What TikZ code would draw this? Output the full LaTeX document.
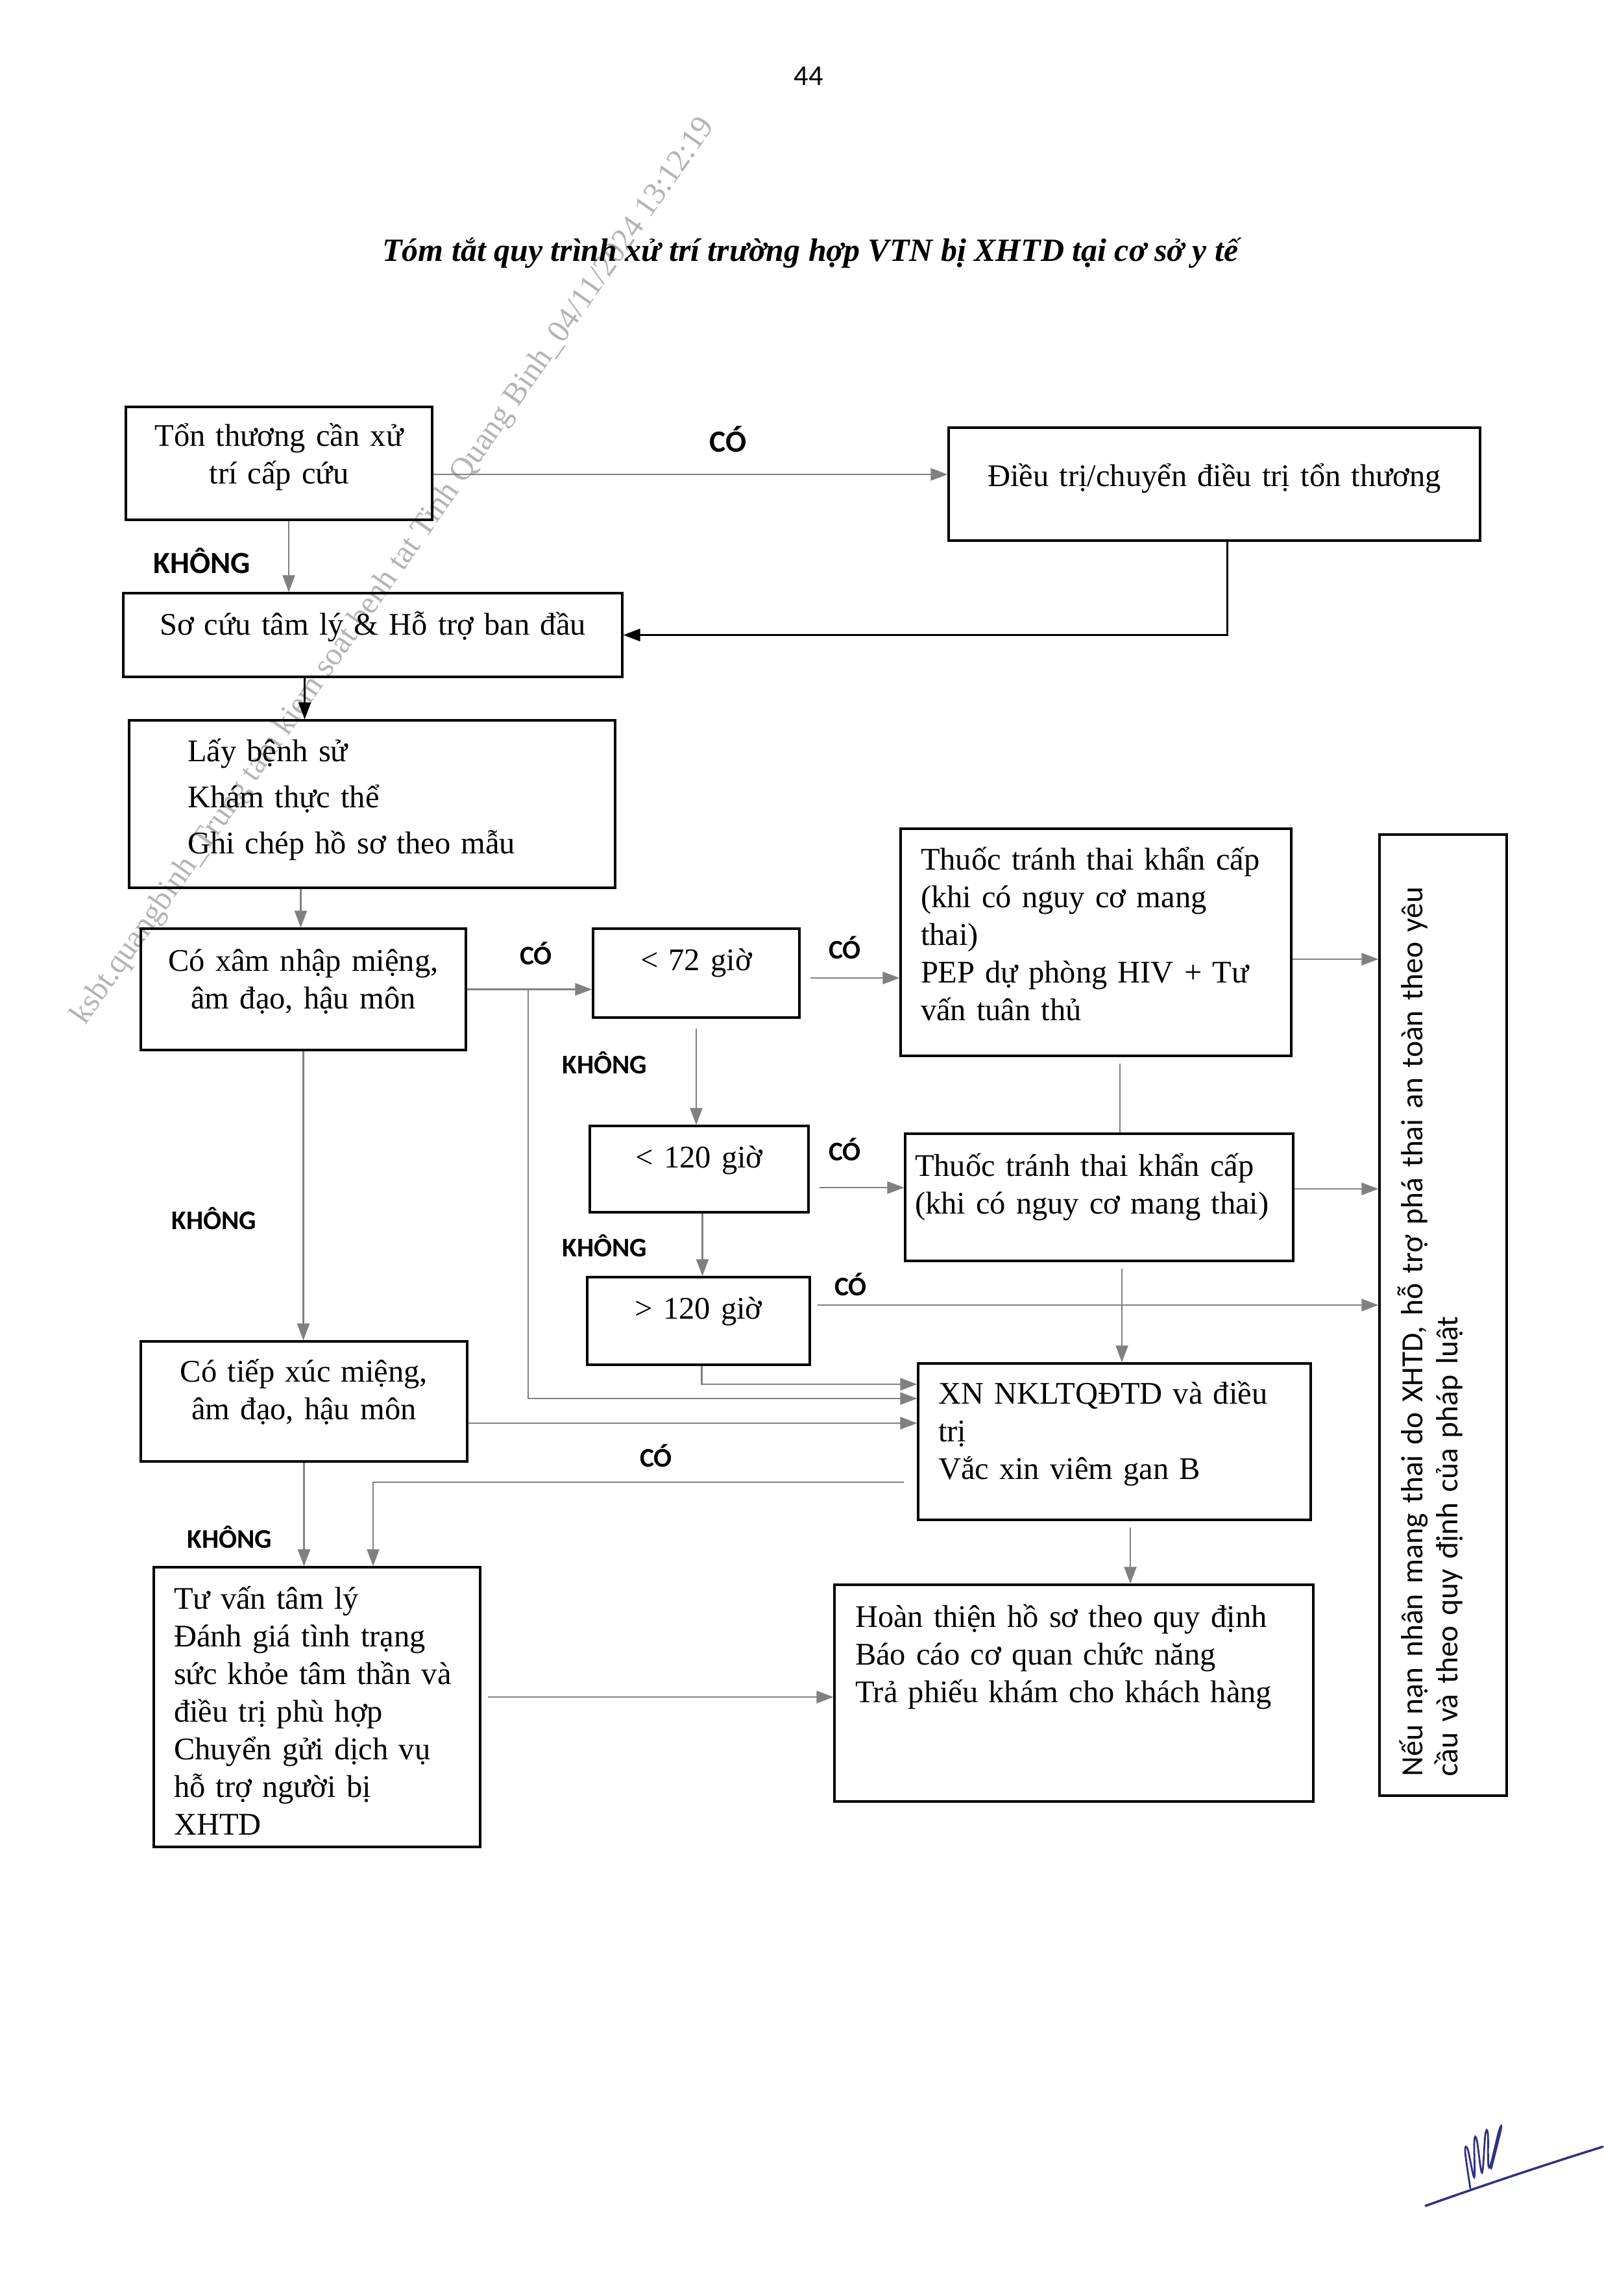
\documentclass[tikz,border=0pt]{standalone}
\usepackage{fontspec}
\setmainfont{Liberation Serif}
\newfontfamily\lblfont{Carlito}
\usepackage{xcolor}
\usetikzlibrary{arrows.meta,positioning}
\definecolor{Wire}{HTML}{808080}
\definecolor{Stamp}{HTML}{B4B4B4}
\definecolor{Ink}{HTML}{2E3282}
\newcommand\liftstrut[1]{\par\nointerlineskip\kern#1\relax}

\begin{document}
\begin{tikzpicture}[
    font=\fontsize{13.8}{16.5}\selectfont,
    box/.style={draw,line width=0.9pt,inner sep=0pt,align=center},
    lbox/.style={box,align=left},
    lift/.style={execute at end node={\liftstrut{#1}}},
    tag/.style={font=\lblfont\bfseries\fontsize{11.8}{13}\selectfont},
    bigtag/.style={font=\lblfont\bfseries\fontsize{13.5}{15}\selectfont},
    arrow/.style={-{Triangle[length=2.6mm,width=1.9mm]},line width=0.6pt,draw=Wire},
    link/.style={line width=0.6pt,draw=Wire},
    darrow/.style={-{Triangle[length=2.6mm,width=1.9mm]},line width=0.8pt,draw=black}
]
\fill[white] (0,0) rectangle (24.71,-35.38);

% dau ban quet
\node[text=Stamp,rotate=55,font=\fontsize{14}{16}\selectfont] (dauvet) at (6.07,-8.81)
  {ksbt.quangbinh\_Trung tam kiem soat benh tat Tinh Quang Binh\_04/11/2024 13:12:19};

% tieu de
\node[font=\lblfont\fontsize{12.6}{14}\selectfont] (trang) at (12.46,-1.17) {44};
\node[font=\bfseries\itshape\fontsize{14.2}{17}\selectfont] (tieude) at (12.49,-3.90)
  {Tóm tắt quy trình xử trí trường hợp VTN bị XHTD tại cơ sở y tế};

% cac buoc
\node[box,minimum width=4.72cm,minimum height=1.74cm,text width=4.5cm,lift=1.9mm] (tonthuong) at (4.30,-7.14) {Tổn thương cần xử\\trí cấp cứu};
\node[box,minimum width=8.19cm,minimum height=1.74cm,text width=8cm,lift=1.7mm] (dieutri) at (18.715,-7.46) {Điều trị/chuyển điều trị tổn thương};
\node[box,minimum width=7.69cm,minimum height=1.29cm,text width=7.5cm,lift=2.65mm] (socuu) at (5.745,-9.785) {Sơ cứu tâm lý \& Hỗ trợ ban đầu};
\node[lbox,minimum width=7.49cm,minimum height=2.58cm,inner xsep=9mm,text width=5.69cm,lift=1.4mm,font=\fontsize{13.8}{20.2}\selectfont] (benhsu) at (5.735,-12.39) {Lấy bệnh sử\\Khám thực thể\\Ghi chép hồ sơ theo mẫu};
\node[box,minimum width=5.01cm,minimum height=1.87cm,text width=4.8cm,lift=2.3mm] (xamnhap) at (4.675,-15.245) {Có xâm nhập miệng,\\âm đạo, hậu môn};
\node[box,minimum width=3.18cm,minimum height=1.37cm,text width=3cm,lift=3.2mm] (duoi72) at (10.73,-14.995) {< 72 giờ};
\node[lbox,minimum width=6.02cm,minimum height=3.5cm,inner xsep=3.1mm,text width=5.4cm,lift=2.5mm] (pep) at (16.89,-14.52) {Thuốc tránh thai khẩn cấp\\(khi có nguy cơ mang\\thai)\\PEP dự phòng HIV + Tư\\vấn tuân thủ};
\node[lbox,rotate=90,minimum width=14.81cm,minimum height=1.96cm,inner xsep=3mm,text width=14.21cm,lift=4mm,font=\lblfont\fontsize{13.5}{15.3}\selectfont] (phathai) at (22.24,-20.265) {Nếu nạn nhân mang thai do XHTD, hỗ trợ phá thai an toàn theo yêu\\cầu và theo quy định của pháp luật};
\node[box,minimum width=3.37cm,minimum height=1.33cm,text width=3.2cm,lift=2.8mm] (duoi120) at (10.775,-18.015) {< 120 giờ};
\node[lbox,minimum width=5.98cm,minimum height=1.96cm,inner xsep=1.5mm,text width=5.68cm,lift=3.2mm] (tranhthai) at (16.94,-18.45) {Thuốc tránh thai khẩn cấp\\(khi có nguy cơ mang thai)};
\node[box,minimum width=3.43cm,minimum height=1.35cm,text width=3.2cm,lift=3mm] (tren120) at (10.765,-20.355) {> 120 giờ};
\node[box,minimum width=5.03cm,minimum height=1.85cm,text width=4.8cm,lift=2.9mm] (tiepxuc) at (4.685,-21.595) {Có tiếp xúc miệng,\\âm đạo, hậu môn};
\node[lbox,minimum width=6.05cm,minimum height=2.41cm,inner xsep=3.1mm,text width=5.43cm,lift=2.4mm] (xetnghiem) at (17.175,-22.215) {XN NKLTQĐTD và điều\\trị\\Vắc xin viêm gan B};
\node[lbox,minimum width=5.03cm,minimum height=4.31cm,inner xsep=3.1mm,text width=4.41cm,lift=-1mm] (tuvan) at (4.885,-26.305) {Tư vấn tâm lý\\Đánh giá tình trạng\\sức khỏe tâm thần và\\điều trị phù hợp\\Chuyển gửi dịch vụ\\hỗ trợ người bị\\XHTD};
\node[lbox,minimum width=7.38cm,minimum height=3.34cm,inner xsep=3.2mm,text width=6.74cm,lift=11.2mm] (hoanthien) at (16.55,-26.09) {Hoàn thiện hồ sơ theo quy định\\Báo cáo cơ quan chức năng\\Trả phiếu khám cho khách hàng};

% nhan nhanh
\node[bigtag] (co1) at (11.22,-6.77) {CÓ};
\node[bigtag] (khong1) at (3.11,-8.64) {KHÔNG};
\node[tag] (co2) at (8.26,-14.69) {CÓ};
\node[tag] (co3) at (13.02,-14.60) {CÓ};
\node[tag] (khong2) at (9.32,-16.38) {KHÔNG};
\node[tag] (co4) at (13.02,-17.71) {CÓ};
\node[tag] (khong3) at (9.32,-19.20) {KHÔNG};
\node[tag] (co5) at (13.11,-19.79) {CÓ};
\node[tag] (khong4) at (3.30,-18.78) {KHÔNG};
\node[tag] (co6) at (10.11,-22.43) {CÓ};
\node[tag] (khong5) at (3.54,-23.69) {KHÔNG};

\coordinate (tach) at ([xshift=9.4mm]xamnhap.east);

% mui ten
\draw[arrow] ([yshift=-1.7mm]tonthuong.east) -- ([yshift=-1.7mm]tonthuong.east -| dieutri.west);
\draw[darrow] ([xshift=2mm]dieutri.south) |- (socuu.east);
\draw[arrow] ([xshift=1.5mm]tonthuong.south) -- ([xshift=1.5mm]tonthuong.south |- socuu.north);
\draw[darrow] ([xshift=-10.5mm]socuu.south) -- ([xshift=-10.5mm]socuu.south |- benhsu.north);
\draw[arrow] ([xshift=-11mm]benhsu.south) -- ([xshift=-11mm]benhsu.south |- xamnhap.north);
\draw[arrow] (xamnhap.east) -- (xamnhap.east -| duoi72.west);
\draw[arrow] (tach) |- ([yshift=6.65mm]xetnghiem.west);
\draw[arrow,shorten <=1.5mm] ([yshift=-0.75mm]duoi72.east) -- ([yshift=-0.75mm]duoi72.east -| pep.west);
\draw[arrow,shorten <=1.5mm] (duoi72.south) -- (duoi72.south |- duoi120.north);
\draw[arrow] ([yshift=-2.6mm]pep.east) -- ([yshift=-2.6mm]pep.east -| phathai.north);
\draw[link,shorten <=1mm] ([xshift=3.7mm]pep.south) -- ([xshift=3.7mm]pep.south |- tranhthai.north);
\draw[arrow,shorten <=1.5mm] ([yshift=-2.85mm]duoi120.east) -- ([yshift=-2.85mm]duoi120.east -| tranhthai.west);
\draw[arrow] ([yshift=1.3mm]tranhthai.east) -- ([yshift=1.3mm]tranhthai.east -| phathai.north);
\draw[arrow] ([xshift=0.5mm]duoi120.south) -- ([xshift=0.5mm]duoi120.south |- tren120.north);
\draw[arrow,shorten <=1mm] ([yshift=2.45mm]tren120.east) -- ([yshift=2.45mm]tren120.east -| phathai.north);
\draw[arrow,shorten <=1mm] ([xshift=3.5mm]tranhthai.south) -- ([xshift=3.5mm]tranhthai.south |- xetnghiem.north);
\draw[arrow] ([xshift=0.5mm]tren120.south) |- ([yshift=8.85mm]xetnghiem.west);
\draw[arrow] ([yshift=-3.35mm]tiepxuc.east) -- ([yshift=-3.35mm]tiepxuc.east -| xetnghiem.west);
\draw[arrow] (xamnhap.south) -- (xamnhap.south |- tiepxuc.north);
\draw[arrow] ([yshift=-6.25mm,xshift=-2mm]xetnghiem.west) -| ([xshift=8.65mm]tuvan.north);
\draw[arrow] (tiepxuc.south) -- (tiepxuc.south |- tuvan.north);
\draw[arrow,shorten <=1mm] ([xshift=2.45mm]xetnghiem.south) -- ([xshift=2.45mm]xetnghiem.south |- hoanthien.north);
\draw[arrow,shorten <=1mm] ([yshift=1.55mm]tuvan.east) -- ([yshift=1.55mm]tuvan.east -| hoanthien.west);

% chu ky
\draw[Ink,line width=1pt,line cap=round] (21.97,-33.99) .. controls (22.9,-33.66) and (23.8,-33.36) .. (24.70,-33.08);
\draw[Ink,line width=0.8pt,line cap=round] plot[smooth,tension=0.6] coordinates {(22.66,-33.72) (22.58,-33.16) (22.62,-33.12) (22.72,-33.55) (22.72,-33.0) (22.76,-32.98) (22.84,-33.48) (22.89,-32.90) (22.93,-32.88) (22.95,-33.40) (23.10,-32.84) (23.13,-32.82) (22.98,-33.42)};
\end{tikzpicture}
\end{document}
